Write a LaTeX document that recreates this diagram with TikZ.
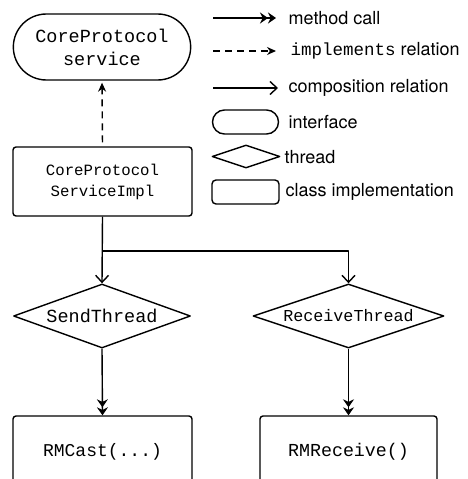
\documentclass[tikz,border=0pt]{standalone}
\usepackage{fontspec}
\setmainfont{TeX Gyre Heros}
\setmonofont{Liberation Mono}
\usetikzlibrary{shapes.geometric,shapes.misc,arrows.meta,positioning}
\begin{document}
\begin{tikzpicture}[x=1pt,y=-1pt, line width=1.4pt, line join=round,
		font=\fontsize{18}{22}\selectfont,
		iface/.style={draw, rounded rectangle, minimum width=184pt, minimum height=66pt, align=center, font=\ttfamily\fontsize{18.5}{23}\selectfont},
		impl/.style={draw, rounded corners=3pt, minimum width=179pt, minimum height=69pt, align=center, font=\ttfamily\fontsize{15.7}{21}\selectfont},
		thread/.style={draw, diamond, aspect=2.8, minimum width=177pt, minimum height=64pt, inner sep=0pt, font=\ttfamily\fontsize{18.5}{22}\selectfont},
		call/.style={-{Stealth[length=8pt,width=11pt]Stealth[length=8pt,width=11pt]}},
		comp/.style={-{Straight Barb[length=7pt,width=13pt]}},
		realizes/.style={dash pattern=on 7pt off 5pt, -{Stealth[length=9pt,width=8pt]}},
		tag/.style={anchor=west, inner sep=0pt}]
	\useasboundingbox (0,0) rectangle (468,479);
	% diagram
	\node[iface] (service) at (102,47) {CoreProtocol\\service};
	\node[impl] (serviceimpl) at (102.5,181.5) {CoreProtocol\\ServiceImpl};
	\node[thread] (send) at (102,316) {SendThread};
	\node[thread, minimum width=191pt, font=\ttfamily\fontsize{16.7}{20}\selectfont] (receive) at (348.5,316) {ReceiveThread};
	\node[impl, font=\ttfamily\fontsize{18}{22}\selectfont, minimum height=72pt] (rmcast) at (102.5,452) {RMCast(...)};
	\node[impl, font=\ttfamily\fontsize{18.3}{22}\selectfont, minimum width=177pt, minimum height=72pt] (rmreceive) at (348.5,452) {RMReceive()};
	\coordinate (fork) at (102,251);
	\draw[realizes, shorten >=2pt, shorten <=4pt] (serviceimpl.north) -- (service.south);
	\draw[comp] (serviceimpl.south) -- (send.north);
	\draw[comp] (fork) -| (receive.north);
	\draw[call] (send.south) -- (rmcast.north);
	\draw[call] (receive.south) -- (rmreceive.north);
	% legend
	\coordinate (callA) at (213,18); \coordinate (callB) at (276,18);
	\coordinate (implA) at (213,51); \coordinate (implB) at (276,51);
	\coordinate (compA) at (213,88); \coordinate (compB) at (278,88);
	\draw[call] (callA) -- (callB);
	\draw[realizes] (implA) -- (implB);
	\draw[comp] (compA) -- (compB);
	\node[tag] (callkey) at (288,18) {method call};
	\node[tag] (implkey) at (290,51) {{\ttfamily\fontsize{17.5}{20}\selectfont implements} relation};
	\node[tag] (compkey) at (288,88) {composition relation};
	\node[draw, rounded rectangle, minimum width=66pt, minimum height=24pt, inner sep=0pt] (ifacebox) at (245.5,122) {};
	\node[draw, diamond, aspect=3, minimum width=68pt, minimum height=23pt, inner sep=0pt] (threadbox) at (246,156.5) {};
	\node[draw, rounded corners=4pt, minimum width=67pt, minimum height=24pt, inner sep=0pt] (implbox) at (245.5,192) {};
	\node[tag] (ifacekey) at (288,122) {interface};
	\node[tag] (threadkey) at (284,157) {thread};
	\node[tag] (implkey2) at (285,192) {class implementation};
\end{tikzpicture}
\end{document}
